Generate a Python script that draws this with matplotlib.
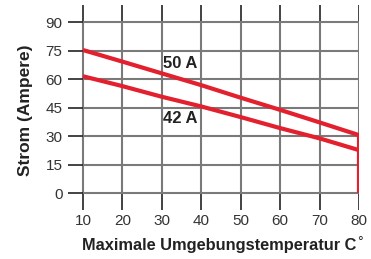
import matplotlib.pyplot as plt

temps = [10, 20, 30, 40, 50, 60, 70, 80]
strom_50a = [75.3, 69.2, 63.0, 56.8, 50.2, 43.8, 37.2, 30.5]
strom_42a = [61.5, 56.3, 50.7, 45.6, 40.0, 34.2, 28.8, 22.6]
y_ticks = [0, 15, 30, 45, 60, 75, 90]
labels = ["50 A", "42 A"]

red = "#e3202e"
grid_gray = "#7a7a7a"

fig = plt.figure(figsize=(3.71, 2.59), dpi=100)
ax = fig.add_axes([0.1833, 0.1892, 0.7844, 0.7915])
ax.set_xlim(6.2, 80)
ax.set_ylim(-8.9, 99)
for s in ax.spines.values():
    s.set_visible(False)

# grid: grey inside, black stubs outside the data area
ax.vlines(temps, 0, 90, color=grid_gray, lw=1.5, zorder=1)
ax.vlines(temps, -8.9, 0, color="#222222", lw=1.2, zorder=1)
ax.vlines(temps, 90, 99, color="#222222", lw=1.2, zorder=1)
ax.hlines(y_ticks, 10, 80, color=grid_gray, lw=1.5, zorder=1)
ax.hlines(y_ticks, 6.2, 10, color="#222222", lw=1.2, zorder=1)

ax.plot(temps, strom_50a, color=red, lw=3, solid_capstyle="butt", zorder=3)
ax.plot(temps, strom_42a, color=red, lw=3, solid_capstyle="butt", zorder=3)
ax.plot([80, 80], [strom_50a[-1], 0], color=red, lw=3, solid_capstyle="butt", zorder=3)

ax.text(30.3, 68.4, labels[0], fontsize=12, fontweight="bold", family="Liberation Sans",
        va="center", ha="left", color="#222222")
ax.text(30.3, 39.5, labels[1], fontsize=12, fontweight="bold", family="Liberation Sans",
        va="center", ha="left", color="#222222")

ax.set_xticks(temps)
ax.set_yticks(y_ticks)
ax.tick_params(length=0, labelsize=11, labelcolor="#333333")
ax.tick_params(axis="y", pad=4)
ax.tick_params(axis="x", pad=3)
for lbl in ax.get_xticklabels() + ax.get_yticklabels():
    lbl.set_family("Liberation Sans")

fig.text(0.068, 0.575, "Strom (Ampere)", rotation=90, fontsize=12.5, fontweight="bold",
         family="Liberation Sans", ha="center", va="center", color="#222222")
fig.text(0.591, 0.052, "Maximale Umgebungstemperatur C", fontsize=11.8, fontweight="bold",
         family="Liberation Sans", ha="center", va="center", color="#222222")
fig.text(0.963, 0.064, "°", fontsize=10, family="Liberation Sans",
         ha="left", va="center", color="#222222")

fig.savefig("out.png", dpi=100)
